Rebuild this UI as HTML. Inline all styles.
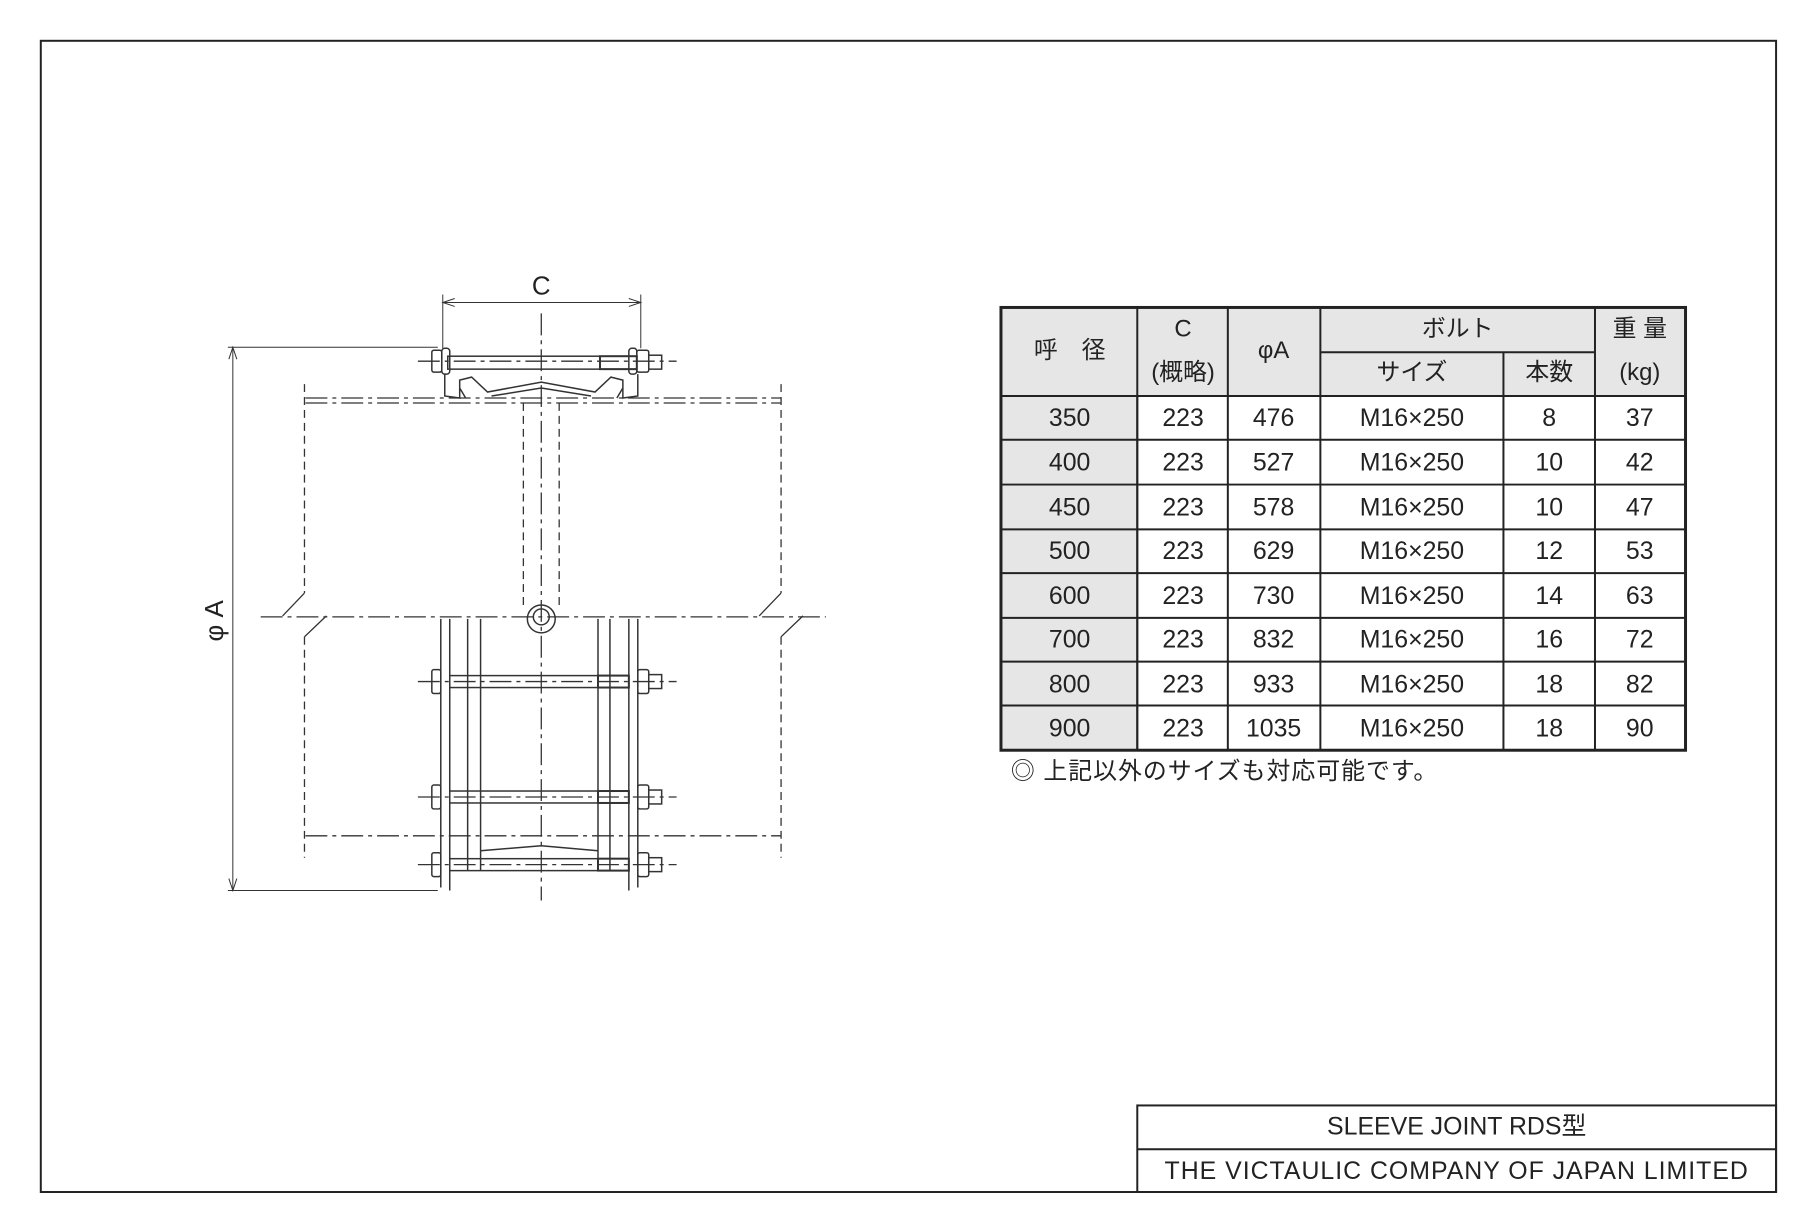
<!DOCTYPE html>
<html><head><meta charset="utf-8"><style>
body{margin:0;background:#fff;}
svg{display:block}
text{font-family:"Liberation Sans","Noto Sans CJK JP",sans-serif;fill:#222}
</style></head><body>
<svg width="1820" height="1232" viewBox="0 0 1820 1232" xmlns="http://www.w3.org/2000/svg">
<g transform="scale(0.995)">
<rect x="41" y="41" width="1744" height="1157" fill="none" stroke="#222" stroke-width="2"/>
<!-- title block -->
<rect x="1143" y="1111" width="642" height="87" fill="none" stroke="#222" stroke-width="2"/>
<line x1="1143" y1="1155" x2="1785" y2="1155" stroke="#222" stroke-width="2"/>
<text x="1464" y="1140" font-size="25" text-anchor="middle">SLEEVE JOINT  RDS型</text>
<text x="1464" y="1185" font-size="25" text-anchor="middle" letter-spacing="1">THE VICTAULIC COMPANY OF JAPAN LIMITED</text>

<!-- table -->
<g stroke="#222" stroke-width="2">
<rect x="1006" y="309" width="688" height="89" fill="#e6e6e6"/>
<rect x="1006" y="398" width="137" height="356" fill="#e6e6e6"/>
<line x1="1143" y1="309" x2="1143" y2="754"/>
<line x1="1234" y1="309" x2="1234" y2="754"/>
<line x1="1327" y1="309" x2="1327" y2="754"/>
<line x1="1511" y1="354" x2="1511" y2="754"/>
<line x1="1603" y1="309" x2="1603" y2="754"/>
<line x1="1327" y1="354" x2="1603" y2="354"/>
<line x1="1006" y1="398" x2="1694" y2="398"/>
<line x1="1006" y1="442" x2="1694" y2="442"/>
<line x1="1006" y1="487" x2="1694" y2="487"/>
<line x1="1006" y1="532" x2="1694" y2="532"/>
<line x1="1006" y1="576" x2="1694" y2="576"/>
<line x1="1006" y1="621" x2="1694" y2="621"/>
<line x1="1006" y1="665" x2="1694" y2="665"/>
<line x1="1006" y1="709" x2="1694" y2="709"/>
<rect x="1006" y="309" width="688" height="445" fill="none" stroke-width="3"/>
</g>
<g font-size="24" text-anchor="middle">
<text x="1075" y="360">呼　径</text>
<text x="1189" y="338">C</text>
<text x="1189" y="382">(概略)</text>
<text x="1280" y="360">φA</text>
<text x="1465" y="338">ボルト</text>
<text x="1419" y="382">サイズ</text>
<text x="1557" y="382">本数</text>
<text x="1648" y="338">重 量</text>
<text x="1648" y="382">(kg)</text>
</g>
<g font-size="25" text-anchor="middle">
<text x="1075" y="428">350</text><text x="1189" y="428">223</text><text x="1280" y="428">476</text><text x="1419" y="428">M16×250</text><text x="1557" y="428">8</text><text x="1648" y="428">37</text>
<text x="1075" y="473">400</text><text x="1189" y="473">223</text><text x="1280" y="473">527</text><text x="1419" y="473">M16×250</text><text x="1557" y="473">10</text><text x="1648" y="473">42</text>
<text x="1075" y="518">450</text><text x="1189" y="518">223</text><text x="1280" y="518">578</text><text x="1419" y="518">M16×250</text><text x="1557" y="518">10</text><text x="1648" y="518">47</text>
<text x="1075" y="562">500</text><text x="1189" y="562">223</text><text x="1280" y="562">629</text><text x="1419" y="562">M16×250</text><text x="1557" y="562">12</text><text x="1648" y="562">53</text>
<text x="1075" y="607">600</text><text x="1189" y="607">223</text><text x="1280" y="607">730</text><text x="1419" y="607">M16×250</text><text x="1557" y="607">14</text><text x="1648" y="607">63</text>
<text x="1075" y="651">700</text><text x="1189" y="651">223</text><text x="1280" y="651">832</text><text x="1419" y="651">M16×250</text><text x="1557" y="651">16</text><text x="1648" y="651">72</text>
<text x="1075" y="696">800</text><text x="1189" y="696">223</text><text x="1280" y="696">933</text><text x="1419" y="696">M16×250</text><text x="1557" y="696">18</text><text x="1648" y="696">82</text>
<text x="1075" y="740">900</text><text x="1189" y="740">223</text><text x="1280" y="740">1035</text><text x="1419" y="740">M16×250</text><text x="1557" y="740">18</text><text x="1648" y="740">90</text>
</g>
<text x="1016" y="783" font-size="24" letter-spacing="1">◎ 上記以外のサイズも対応可能です。</text>

<!-- drawing -->
<g fill="none" stroke="#333" stroke-width="1.5">
<line x1="445" y1="296" x2="445" y2="350" stroke-width="1"/>
<line x1="644" y1="296" x2="644" y2="350" stroke-width="1"/>
<line x1="445" y1="304" x2="644" y2="304" stroke-width="1"/>
<path d="M457 300 L445 304 L457 308 M632 300 L644 304 L632 308" stroke-width="1"/>
<line x1="229" y1="349" x2="440" y2="349" stroke-width="1"/>
<line x1="229" y1="895" x2="440" y2="895" stroke-width="1"/>
<line x1="234" y1="349" x2="234" y2="895" stroke-width="1"/>
<path d="M230 361 L234 349 L238 361 M230 883 L234 895 L238 883" stroke-width="1"/>
<g stroke-dasharray="22 5 4 5" stroke-width="1.3">
<line x1="307" y1="400" x2="785" y2="400"/>
<line x1="307" y1="405" x2="785" y2="405"/>
<line x1="307" y1="840" x2="785" y2="840"/>
<line x1="262" y1="620" x2="830" y2="620"/>
<line x1="544" y1="315" x2="544" y2="905"/>
<line x1="420" y1="363" x2="680" y2="363"/>
<line x1="420" y1="685" x2="680" y2="685"/>
<line x1="420" y1="801" x2="680" y2="801"/>
<line x1="420" y1="869" x2="680" y2="869"/>
</g>
<g stroke-dasharray="8 5" stroke-width="1.3">
<line x1="306" y1="386" x2="306" y2="596"/>
<line x1="306" y1="640" x2="306" y2="862"/>
<line x1="785" y1="386" x2="785" y2="596"/>
<line x1="785" y1="640" x2="785" y2="862"/>
<line x1="526" y1="405" x2="526" y2="612"/>
<line x1="562" y1="405" x2="562" y2="612"/>
</g>
<path d="M306 596 L284 619 M328 619 L306 640 M785 596 L763 619 M807 619 L785 640" stroke-width="1.3"/>
<circle cx="544" cy="622" r="14"/>
<circle cx="544" cy="620" r="8"/>
<rect x="450" y="358" width="190" height="13"/>
<rect x="603" y="358" width="37" height="13" stroke-width="2"/>
<rect x="434" y="352" width="10" height="22" rx="2"/>
<rect x="444" y="350" width="8" height="26" rx="3"/>
<rect x="632" y="350" width="8" height="26" rx="3"/>
<rect x="640" y="352" width="12" height="22" rx="2"/>
<rect x="652" y="357" width="13" height="14"/>
<path d="M447 376 L447 398 L462 400 L462 382 L474 379 L490 394 L544 384 L598 394 L614 379 L626 382 L626 400 L641 398 L641 376"/>
<path d="M468 400 L462 390 M494 398 L544 390 L594 398 M620 400 L626 390"/>
<line x1="443" y1="622" x2="443" y2="892"/><line x1="452" y1="622" x2="452" y2="895"/>
<line x1="470" y1="622" x2="470" y2="875"/><line x1="483" y1="622" x2="483" y2="875"/>
<line x1="601" y1="622" x2="601" y2="875"/><line x1="613" y1="622" x2="613" y2="875"/>
<line x1="632" y1="622" x2="632" y2="895"/><line x1="641" y1="622" x2="641" y2="892"/>
<path d="M483 855 L544 850 L601 855"/>
<g>
<rect x="452" y="679" width="180" height="12"/><rect x="601" y="679" width="31" height="12" stroke-width="2"/>
<rect x="434" y="673" width="9" height="24" rx="2"/><rect x="641" y="673" width="11" height="24" rx="2"/><rect x="652" y="678" width="13" height="14"/>
<rect x="452" y="795" width="180" height="12"/><rect x="601" y="795" width="31" height="12" stroke-width="2"/>
<rect x="434" y="789" width="9" height="24" rx="2"/><rect x="641" y="789" width="11" height="24" rx="2"/><rect x="652" y="794" width="13" height="14"/>
<rect x="452" y="863" width="180" height="12"/><rect x="601" y="863" width="31" height="12" stroke-width="2"/>
<rect x="434" y="857" width="9" height="24" rx="2"/><rect x="641" y="857" width="11" height="24" rx="2"/><rect x="652" y="862" width="13" height="14"/>
</g>
</g>
<text x="544" y="296" font-size="26" text-anchor="middle">C</text>
<text transform="translate(224,624) rotate(-90)" font-size="26" text-anchor="middle">φ A</text>
</g>
</svg>
</body></html>
